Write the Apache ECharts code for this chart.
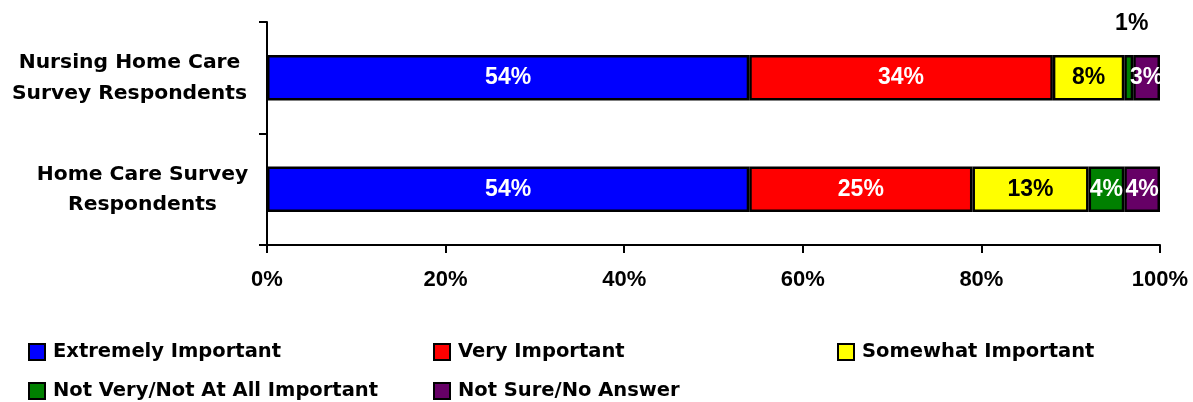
<!DOCTYPE html>
<html>
<head>
<meta charset="utf-8">
<script src="https://cdn.jsdelivr.net/npm/echarts@6/dist/echarts.min.js"></script>
<style>
html,body{margin:0;padding:0;background:#fff;}
#chart{width:1193px;height:402px;}
</style>
</head>
<body>
<div id="chart"></div>
<script>
var categories = ['Nursing Home Care\nSurvey Respondents', 'Home Care Survey\nRespondents'];
var seriesNames = ['Extremely Important', 'Very Important', 'Somewhat Important', 'Not Very/Not At All Important', 'Not Sure/No Answer'];
var extremelyImportant = [54, 54];
var veryImportant = [34, 25];
var somewhatImportant = [8, 13];
var notVeryImportant = [1, 4];
var notSure = [3, 4];
var xTicks = [0, 20, 40, 60, 80, 100];

var seriesValues = [extremelyImportant, veryImportant, somewhatImportant, notVeryImportant, notSure];
var colors = ['#0000FF', '#FF0000', '#FFFF00', '#008000', '#660066'];
var labelColors = ['#fff', '#fff', '#000', '#fff', '#fff'];

var chart = echarts.init(document.getElementById('chart'), null, {renderer: 'canvas'});

var series = seriesNames.map(function (name, si) {
  return {
    name: name,
    type: 'bar',
    stack: 'total',
    barWidth: '41%',
    itemStyle: {color: colors[si], borderColor: '#000', borderWidth: 2.5},
    label: {
      show: true,
      position: 'inside',
      formatter: '{c}%',
      color: labelColors[si],
      fontFamily: 'Liberation Sans',
      fontWeight: 'bold',
      fontSize: 23,
      textBorderWidth: 0
    },
    emphasis: {disabled: true},
    data: seriesValues[si].map(function (v) {
      if (v < 2) {
        return {value: v, label: {position: 'top', distance: 20, color: '#000', offset: [3, 0]}};
      }
      return v;
    })
  };
});

var legendLefts = [28, 433, 837, 28, 433];
var legendTops = [342, 342, 342, 381, 381];
var legends = seriesNames.map(function (name, i) {
  return {
    data: [name],
    left: legendLefts[i],
    top: legendTops[i],
    padding: 0,
    itemWidth: 16,
    itemHeight: 16,
    icon: 'rect',
    selectedMode: false,
    itemStyle: {borderColor: '#000', borderWidth: 2},
    textStyle: {
      fontFamily: 'DejaVu Sans',
      fontWeight: 'bold',
      fontSize: 19.5,
      color: '#000',
      padding: [0, 0, 0, 3]
    }
  };
});

var option = {
  backgroundColor: '#fff',
  animation: false,
  legend: legends,
  grid: {left: 267, right: 33, top: 22, bottom: 157},
  xAxis: {
    type: 'value',
    min: xTicks[0],
    max: xTicks[xTicks.length - 1],
    interval: xTicks[1] - xTicks[0],
    axisLine: {show: true, lineStyle: {color: '#000', width: 2}},
    axisTick: {show: true, length: 8, lineStyle: {color: '#000', width: 2}},
    splitLine: {show: false},
    axisLabel: {
      formatter: '{value}%',
      color: '#000',
      fontFamily: 'Liberation Sans',
      fontWeight: 'bold',
      fontSize: 22,
      margin: 24
    }
  },
  yAxis: {
    type: 'category',
    inverse: true,
    data: categories,
    axisLine: {show: true, lineStyle: {color: '#000', width: 2}},
    axisTick: {show: true, length: 8, lineStyle: {color: '#000', width: 2}},
    axisLabel: {
      margin: 19,
      color: '#000',
      formatter: function (val, idx) {
        var key = idx === 0 ? 'a' : 'b';
        return val.split('\n').map(function (s) { return '{' + key + '|' + s + '}'; }).join('\n');
      },
      rich: {
        a: {width: 237, align: 'center', fontFamily: 'DejaVu Sans', fontWeight: 'bold', fontSize: 20.3, lineHeight: 31, color: '#000'},
        b: {width: 211, align: 'center', fontFamily: 'DejaVu Sans', fontWeight: 'bold', fontSize: 20.3, lineHeight: 30, color: '#000'}
      }
    }
  },
  series: series
};
chart.setOption(option);
</script>
</body>
</html>
